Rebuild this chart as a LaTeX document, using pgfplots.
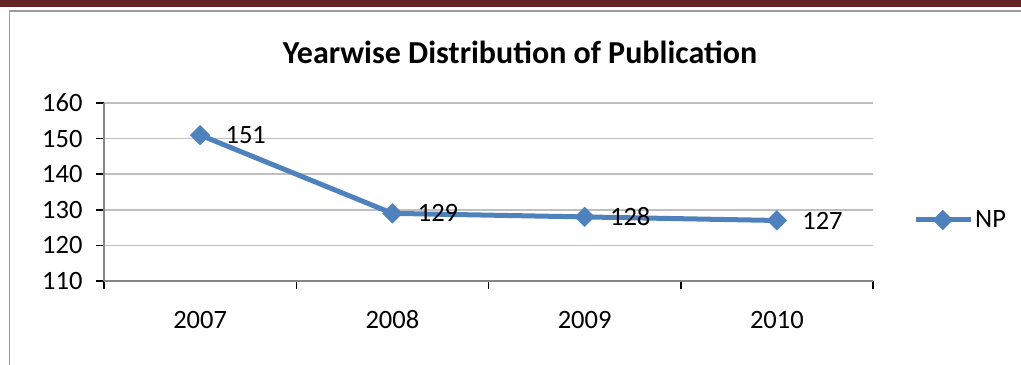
\documentclass[border=0pt]{standalone}
\usepackage{fontspec}
\setmainfont{Carlito}
\usepackage{pgfplots}
\pgfplotsset{compat=1.18}
\definecolor{bar}{HTML}{632523}
\definecolor{frame}{HTML}{9A9A9A}
\definecolor{grid}{HTML}{868686}
\definecolor{np}{HTML}{4F81BD}
\begin{document}
\begin{tikzpicture}
\useasboundingbox (0,0) rectangle (1021bp,365bp);
\fill[bar] (0,358bp) rectangle (1021bp,365bp);
\draw[frame,line width=1.5bp] (1021bp,354bp) -- (9.5bp,354bp) -- (9.5bp,0);
\node[font=\fontsize{32bp}{36bp}\selectfont\bfseries] at (520bp,313bp) {Yearwise Distribution of Publication};
\begin{axis}[
  at={(104bp,84bp)}, anchor=south west,
  scale only axis, width=769bp, height=178bp,
  xmin=-0.5, xmax=3.5, ymin=110, ymax=160,
  ytick={110,120,...,160},
  xtick={-0.5,0.5,1.5,2.5,3.5},
  xticklabels={},
  extra x ticks={0,1,2,3},
  extra x tick labels={2007,2008,2009,2010},
  extra x tick style={major tick length=0pt, xmajorgrids=false},
  axis x line*=bottom, axis y line*=left,
  axis line style={grid, line width=1.5bp},
  every tick/.style={grid, line width=1.5bp},
  tick align=outside,
  major tick length=8bp,
  ymajorgrids, xmajorgrids=false,
  major grid style={grid, line width=1.5bp},
  /pgf/number format/assume math mode=true,
  tick label style={font=\fontsize{26.5bp}{30bp}\selectfont},
  yticklabel style={xshift=-10bp},
  xticklabel style={text height=18bp, text depth=0bp, yshift=-26bp},
  clip=false,
  legend style={at={(axis description cs:1.052,0.343)}, anchor=west, draw=none, fill=none, inner sep=0pt,
    font=\fontsize{26.5bp}{30bp}\selectfont},
  legend cell align=left,
  legend image code/.code={\draw[mark repeat=2,mark phase=2,#1] plot coordinates {(0bp,0bp) (27bp,0bp) (55bp,0bp)};},
]
\addplot[np, line width=5bp, mark=square*, mark size=7bp, mark options={line width=0.3bp, fill=np, rotate=45},
  nodes near coords, every node near coord/.style={anchor=west, xshift=22bp, text=black, font=\fontsize{26.5bp}{30bp}\selectfont}]
  coordinates {(0,151) (1,129) (2,128) (3,127)};
\addlegendentry{NP}
\end{axis}
\end{tikzpicture}
\end{document}
